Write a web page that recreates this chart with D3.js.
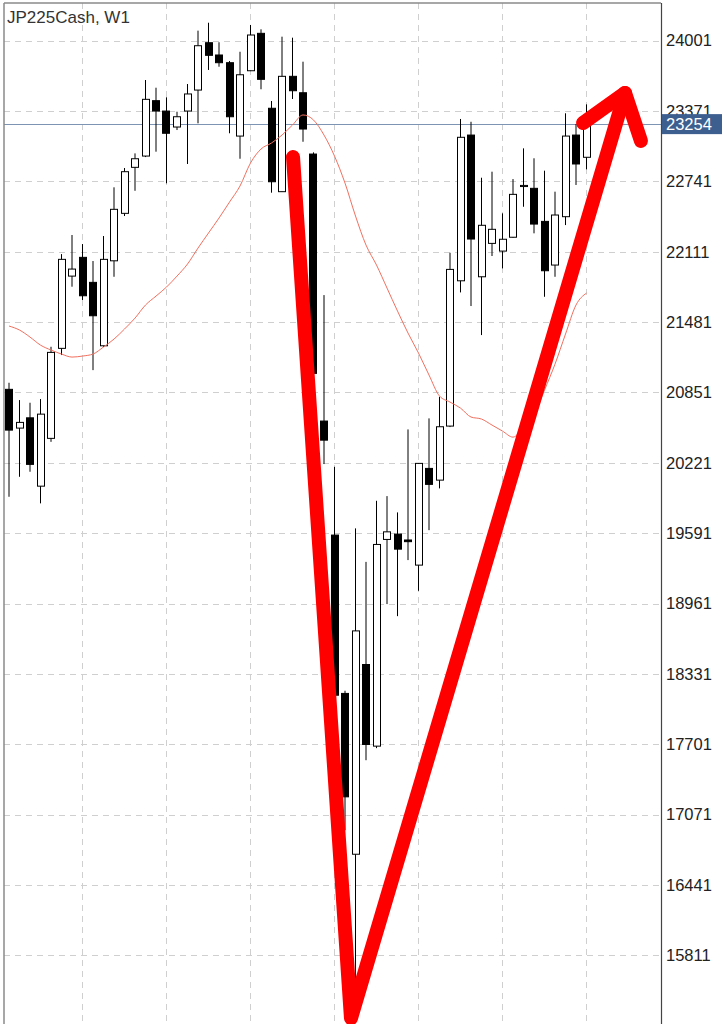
<!DOCTYPE html>
<html>
<head>
<meta charset="utf-8">
<style>
  body { margin: 0; background: #fff; }
  svg { display: block; font-family: "Liberation Sans", Arial, sans-serif; }
</style>
</head>
<body>
<svg width="725" height="1024"></svg>
<script src="https://d3js.org/d3.v7.min.js"></script>
<script>

    // weekly candles
    var opens  = [20879, 20532, 20624, 20012, 20440, 21246, 21893, 22061, 21837, 21269,
                  22030, 22455, 22867, 22968, 23464, 23371, 23228, 23371, 23559, 23983,
                  23873, 23804, 23147, 23732, 24067, 23396, 22649, 23682, 23535, 22986,
                  20595, 19574, 18156, 16716, 18415, 17684, 19535, 19583, 19530, 19305,
                  20171, 20066, 20550, 21851, 23156, 21887, 22186, 22117, 22241, 22695,
                  22679, 22383, 21992, 22425, 23156, 22957];
    var highs  = [20938, 20783, 20759, 20792, 21260, 22090, 22261, 22180, 22028, 22252,
                  22688, 22861, 22992, 23649, 23580, 23494, 23365, 23613, 24091, 24162,
                  23987, 23819, 23902, 24142, 24103, 23461, 24037, 24028, 23813, 23001,
                  21723, 20185, 18180, 19634, 19334, 19881, 19923, 19777, 20520, 20219,
                  20619, 20812, 22102, 23300, 23275, 22774, 22828, 22455, 22762, 23037,
                  22948, 22837, 22649, 23351, 23255, 23431];
    var lows   = [19917, 20096, 20141, 19858, 20409, 21186, 21798, 21679, 21051, 21258,
                  21887, 22431, 22657, 22959, 23007, 22724, 23201, 22897, 23261, 23739,
                  23768, 23172, 22944, 23729, 23566, 22640, 22646, 23479, 23096, 21007,
                  20210, 16662, 16931, 15450, 17558, 17666, 18956, 18848, 19350, 19075,
                  19618, 19992, 20541, 21747, 21625, 21365, 22073, 21962, 22237, 22514,
                  22276, 21708, 21887, 22350, 22709, 22849];
    var closes = [20514, 20583, 20207, 20657, 21210, 22043, 21956, 21717, 21538, 22043,
                  22491, 22828, 22944, 23476, 23371, 23172, 23320, 23524, 23956, 23870,
                  23804, 23320, 23696, 24052, 23655, 22738, 23682, 23553, 23210, 21022,
                  20424, 18140, 17230, 18716, 17699, 19490, 19603, 19448, 19515, 20216,
                  20028, 20544, 21953, 23136, 22225, 22348, 22312, 22223, 22625, 22705,
                  22359, 21941, 22440, 23147, 22897, 23254];

    // moving average (thin red line)
    var maValues = [21446, 21410, 21347, 21275, 21231, 21195, 21168, 21177, 21195, 21258,
                    21329, 21419, 21517, 21634, 21714, 21795, 21893, 22001, 22144, 22279,
                    22413, 22556, 22700, 22906, 23031, 23085, 23156, 23246, 23336, 23291,
                    23156, 22968, 22726, 22431, 22171, 21992, 21786, 21580, 21383, 21204,
                    21007, 20819, 20765, 20711, 20631, 20613, 20559, 20505, 20451, 20541,
                    20648, 20872, 21105, 21374, 21634, 21741];

    var priceTicks = [24001, 23371, 22741, 22111, 21481, 20851, 20221, 19591,
                      18961, 18331, 17701, 17071, 16441, 15811];
    var gridIdx = [7, 15, 23, 31, 39, 47, 55];
    var lastPrice = 23254;
    var title = "JP225Cash, W1";

    // hand-drawn red V arrow, in (bar index, price)
    var arrowBody = [[27.05, 22959], [32.57, 15247], [58.67, 23533]];
    var arrowHead = [[54.67, 23264], [58.67, 23533], [60.19, 23103]];

    var svg = d3.select("svg"),
        plotL = 4, plotT = 3, plotR = 661, plotB = 1024;

    var x = d3.scaleLinear().domain([0, 55]).range([9, 586.5]);
    var y = d3.scaleLinear().domain([15811, 24001]).range([955.3, 40.7]);

    var candles = opens.map(function(o, i) {
        return {i: i, o: o, h: highs[i], l: lows[i], c: closes[i]};
    });

    svg.append("clipPath").attr("id", "plot")
        .append("rect").attr("x", plotL).attr("y", plotT)
        .attr("width", plotR - plotL).attr("height", plotB - plotT);

    var g = svg.append("g").attr("clip-path", "url(#plot)");

    // grid
    g.selectAll(".hgrid").data(priceTicks).enter().append("line")
        .attr("x1", plotL).attr("x2", plotR)
        .attr("y1", function(d) { return Math.round(y(d)) + 0.5; })
        .attr("y2", function(d) { return Math.round(y(d)) + 0.5; })
        .attr("stroke", "#cfcfcf").attr("stroke-dasharray", "6,5");

    g.selectAll(".vgrid").data(gridIdx).enter().append("line")
        .attr("x1", function(d) { return Math.floor(x(d)) + 0.5; })
        .attr("x2", function(d) { return Math.floor(x(d)) + 0.5; })
        .attr("y1", plotT).attr("y2", plotB)
        .attr("stroke", "#cfcfcf").attr("stroke-dasharray", "6,5");

    // bid line
    g.append("line")
        .attr("x1", plotL).attr("x2", plotR)
        .attr("y1", Math.round(y(lastPrice)) + 0.5).attr("y2", Math.round(y(lastPrice)) + 0.5)
        .attr("stroke", "#7d95b3");

    // wicks
    g.selectAll(".wick").data(candles).enter().append("line")
        .attr("x1", function(d) { return x(d.i); })
        .attr("x2", function(d) { return x(d.i); })
        .attr("y1", function(d) { return y(d.h); })
        .attr("y2", function(d) { return y(d.l); })
        .attr("stroke", "#000");

    // bodies
    g.selectAll(".body").data(candles).enter().append("rect")
        .attr("x", function(d) { return Math.floor(x(d.i) - 3.5) + 0.5; })
        .attr("width", 7)
        .attr("y", function(d) { return y(Math.max(d.o, d.c)); })
        .attr("height", function(d) { return Math.max(1, Math.abs(y(d.o) - y(d.c))); })
        .attr("fill", function(d) { return d.c >= d.o ? "#fff" : "#000"; })
        .attr("stroke", "#000");

    // moving average
    g.append("path")
        .datum(maValues)
        .attr("fill", "none")
        .attr("stroke", "#f0705f")
        .attr("stroke-width", 1)
        .attr("d", d3.line()
            .x(function(d, i) { return x(i); })
            .y(function(d) { return y(d); })
            .curve(d3.curveMonotoneX));

    // frame
    svg.append("line").attr("x1", plotL).attr("x2", plotR).attr("y1", plotT).attr("y2", plotT)
        .attr("stroke", "#8a8a8a").attr("stroke-width", 1.5);
    svg.append("line").attr("x1", plotL).attr("x2", plotL).attr("y1", plotT).attr("y2", plotB)
        .attr("stroke", "#8a8a8a").attr("stroke-width", 1.5);

    // price axis
    var axis = svg.append("g")
        .attr("transform", "translate(" + plotR + ",0)")
        .call(d3.axisRight(y).tickValues(priceTicks).tickSize(0).tickPadding(5)
            .tickFormat(d3.format("d")));
    axis.select(".domain").remove();
    axis.selectAll("text")
        .attr("fill", "#222")
        .style("font-size", "16.5px")
        .style("font-family", "Liberation Sans, Arial, sans-serif");

    svg.append("line").attr("x1", plotR + 0.5).attr("x2", plotR + 0.5)
        .attr("y1", plotT).attr("y2", plotB)
        .attr("stroke", "#444").attr("stroke-width", 1.2);

    // current price tag
    var py = y(lastPrice);
    svg.append("rect")
        .attr("x", plotR + 1).attr("y", py - 10)
        .attr("width", 60).attr("height", 20)
        .attr("fill", "#3d5f8f");
    svg.append("text")
        .attr("x", plotR + 5).attr("y", py).attr("dy", "0.36em")
        .attr("fill", "#fff")
        .style("font-size", "16.5px")
        .text(lastPrice);

    // title
    svg.append("text")
        .attr("x", 7).attr("y", 22.7)
        .attr("fill", "#333")
        .style("font-size", "17px")
        .text(title);

    // red arrow drawn over the chart
    var arrowLine = d3.line()
        .x(function(d) { return x(d[0]); })
        .y(function(d) { return y(d[1]); });

    [arrowBody, arrowHead].forEach(function(pts) {
        svg.append("path")
            .attr("d", arrowLine(pts))
            .attr("fill", "none")
            .attr("stroke", "#ff0000")
            .attr("stroke-width", 14)
            .attr("stroke-linecap", "round")
            .attr("stroke-linejoin", "round");
    });

</script>
</body>
</html>
